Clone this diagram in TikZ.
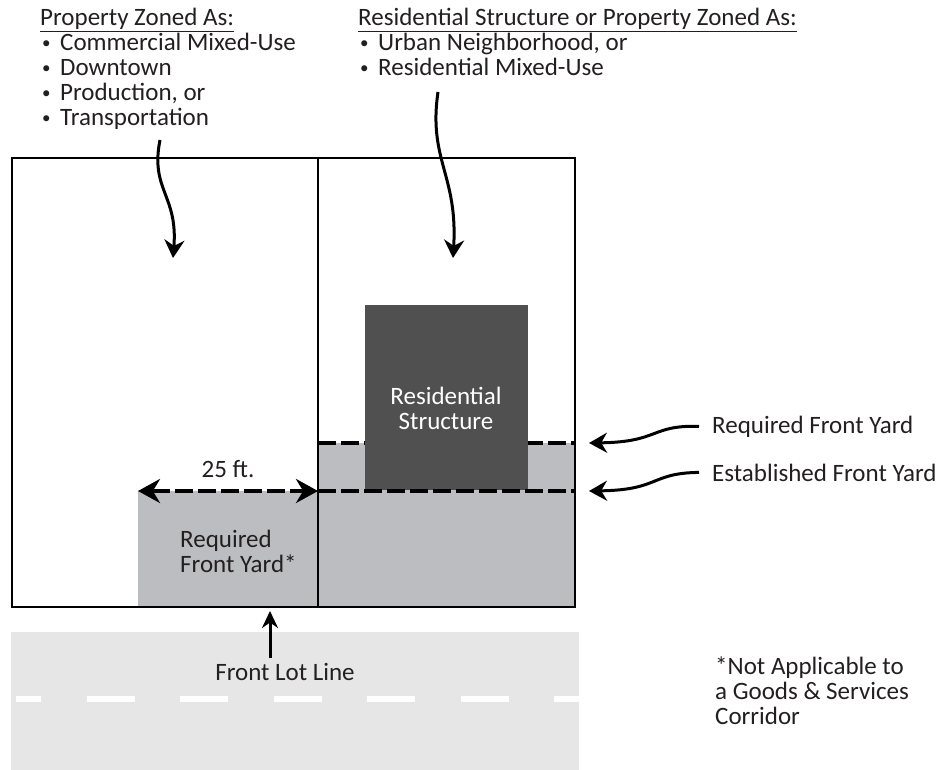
\documentclass[tikz,border=0pt]{standalone}
\usepackage{fontspec}
\setmainfont{Carlito}
\usetikzlibrary{arrows.meta}
\definecolor{yardgray}{HTML}{BCBDC0}
\definecolor{housegray}{HTML}{505050}
\definecolor{roadgray}{HTML}{E6E6E6}
\definecolor{ink}{HTML}{231F20}
\tikzset{
  txt/.style={inner sep=0pt, font=\fontsize{25}{25}\selectfont, text=ink, align=left},
  setback/.style={line width=4.5pt, dash pattern=on 18pt off 5pt},
  wavy/.style={line width=3pt, -{Stealth[length=18pt,width=20pt]}},
  lotline/.style={line width=1.2pt},
}
\newcommand{\bul}{\hspace*{2pt}\makebox[18pt][l]{\raisebox{2.5pt}{\fontsize{17}{17}\selectfont •}}}
\begin{document}
\begin{tikzpicture}[x=1pt,y=-1pt]
  \useasboundingbox (0,0) rectangle (940,770);
  % road
  \fill[roadgray] (11,632) rectangle (579,770);
  \draw[white, line width=6pt, dash pattern=on 48pt off 45.5pt, dash phase=23pt] (16,699) -- (579,699);
  % yards
  \fill[yardgray] (138,491) rectangle (318,607);
  \fill[yardgray] (318,443) rectangle (575,607);
  \draw[setback] (318,443) -- (575,443);
  \node[fill=housegray, minimum width=163pt, minimum height=185pt, inner sep=0pt, anchor=north west] (house) at (365,305) {};
  \draw[setback] (318,491) -- (575,491);
  % lots
  \draw[lotline] (12,158) rectangle (575,607);
  \draw[lotline] (318,158) -- (318,607);
  % labels
  \node[txt, anchor=base west] (zonea) at (40,126) {\underline{Property Zoned As:}\\
    \bul Commercial Mixed-Use\\ \bul Downtown\\ \bul Production, or\\ \bul Transportation};
  \node[txt, anchor=base west] (zoneb) at (358,76) {\underline{Residential Structure or Property Zoned As:}\\
    \bul Urban Neighborhood, or\\ \bul Residential Mixed-Use};
  \node[txt, text=white, align=center] (houselbl) at (446,408) {Residential\\Structure};
  \node[txt, anchor=base] (dist) at (228,477) {25 ft.};
  \node[txt, anchor=base west] (yardlbl) at (180,572) {Required\\Front Yard*};
  \node[txt, anchor=base west] (reqlbl) at (712,433) {Required Front Yard};
  \node[txt, anchor=base west] (estlbl) at (712,481) {Established Front Yard};
  \node[txt, anchor=base] (lotlbl) at (285,680) {Front Lot Line};
  \node[txt, anchor=base west] (note) at (715,724) {*Not Applicable to\\a Goods \& Services\\Corridor};
  % arrow ends
  \coordinate (yardl) at (138,491);
  \coordinate (yardr) at (318,491);
  \coordinate (starta) at (160,140);
  \coordinate (enda) at (173,258);
  \coordinate (startb) at (438,92);
  \coordinate (endb) at (453,258);
  \coordinate (reqend) at (589,443);
  \coordinate (estend) at (589,491);
  \coordinate (lotend) at (270,611);
  % arrows
  \draw[setback, {Stealth[length=22pt,width=24pt]}-{Stealth[length=22pt,width=24pt]}] (yardl) -- (yardr);
  \draw[wavy] (starta) .. controls (150,190) and (178,195) .. (enda);
  \draw[wavy] (startb) .. controls (428,160) and (458,175) .. (endb);
  \draw[wavy] ([xshift=-13pt]reqlbl.west) .. controls (650,425) and (660,442) .. (reqend);
  \draw[wavy] ([xshift=-13pt]estlbl.west) .. controls (650,473) and (660,490) .. (estend);
  \draw[line width=3pt, -{Stealth[length=17pt,width=16pt]}] ([yshift=5pt]lotlbl.north -| lotend) -- (lotend);
\end{tikzpicture}
\end{document}
